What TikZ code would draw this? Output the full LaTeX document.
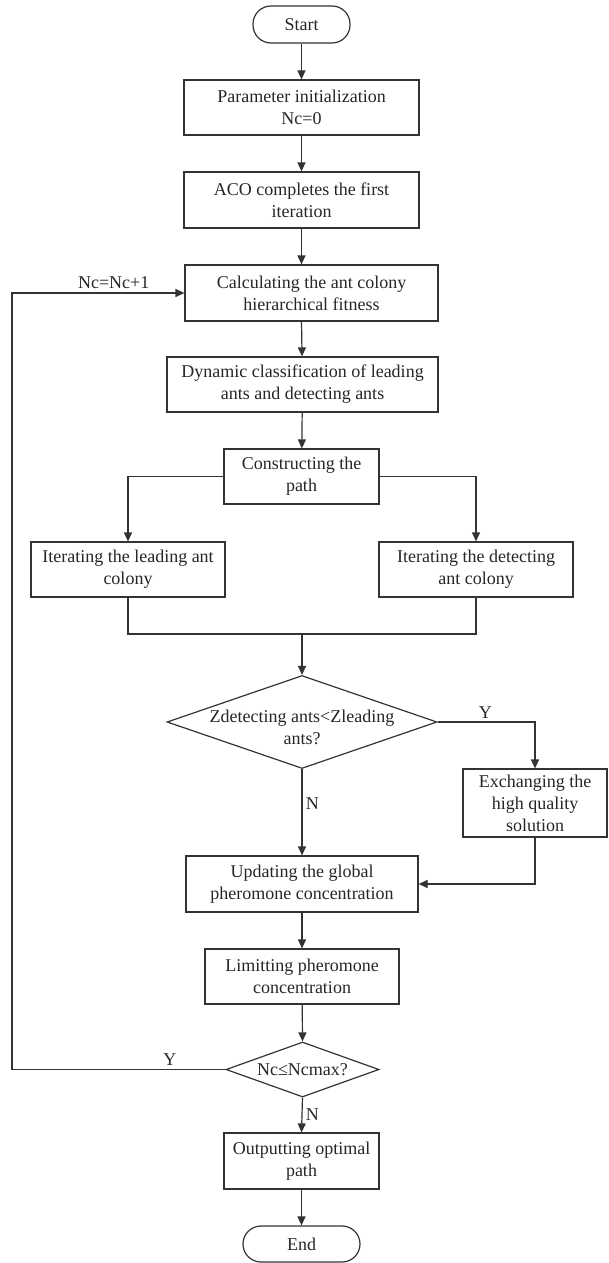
\documentclass[tikz,border=0pt]{standalone}
\usepackage{fontspec}
\setmainfont{Liberation Serif}
\usetikzlibrary{shapes.geometric,arrows.meta}

\begin{document}
\begin{tikzpicture}[x=1pt,y=-1pt,
  every node/.style={font=\fontsize{18}{22}\selectfont,text=black!85},
  box/.style={draw=black!80,line width=1.2pt,rectangle,inner sep=0pt,align=center},
  term/.style={box,rounded corners=18pt},
  dec/.style={draw=black!80,line width=1.2pt,diamond,inner sep=0pt},
  flow/.style={draw=black!80,line width=1.2pt,-{Triangle[length=9pt,width=8pt]}},
  seg/.style={draw=black!80,line width=1.2pt}]
\useasboundingbox (0,0) rectangle (608,1263);

\node (st)[term,minimum width=97,minimum height=37] at (301.5,24.5) {Start};
\node (b1)[box,minimum width=235,minimum height=55] at (301.5,107.5) {Parameter initialization\\Nc=0};
\node (b2)[box,minimum width=235,minimum height=56] at (301.5,200) {ACO completes the first\\iteration};
\node (b3)[box,minimum width=253,minimum height=56] at (311.5,293) {Calculating the ant colony\\hierarchical fitness};
\node (b4)[box,minimum width=271,minimum height=55] at (302.5,384.5) {Dynamic classification of leading\\ants and detecting ants};
\node (b5)[box,minimum width=155,minimum height=55] at (301.5,476.5) {Constructing the\\path};
\node (bl)[box,minimum width=194,minimum height=55] at (128,569.5) {Iterating the leading ant\\colony};
\node (br)[box,minimum width=194,minimum height=55] at (476,569.5) {Iterating the detecting\\ant colony};
\coordinate (mg) at (302,634);
\node (d1)[dec,minimum width=270,minimum height=93,
  label={[align=center,yshift=-5]center:Zdetecting ants<Zleading\\ants?}] at (302,722) {};
\node (ex)[box,minimum width=144,minimum height=68] at (535,803) {Exchanging the\\high quality\\solution};
\node (up)[box,minimum width=232,minimum height=56] at (302,884) {Updating the global\\pheromone concentration};
\node (lim)[box,minimum width=194,minimum height=55] at (302,976.5) {Limitting pheromone\\concentration};
\node (d2)[dec,minimum width=153,minimum height=55,
  label={center:Nc\char"2264 Ncmax?}] at (302.5,1069.5) {};
\node (out)[box,minimum width=155,minimum height=56] at (301.5,1161) {Outputting optimal\\path};
\node (en)[term,minimum width=117,minimum height=36] at (301.5,1244) {End};
\coordinate (lp) at (12,0);

\draw[flow] (st)--(b1);
\draw[flow] (b1)--(b2);
\draw[flow] (b2)--(b2 |- b3.north);
\draw[flow] (b2 |- b3.south)--(b4);
\draw[flow] (b4)--(b5);
\draw[flow] (b5.west) -| (bl.north);
\draw[flow] (b5.east) -| (br.north);
\draw[seg] (bl.south) |- (mg);
\draw[seg] (br.south) |- (mg);
\draw[flow] (mg)--(d1.north);
\draw[flow] (d1.east) -| node[pos=.245,above]{Y} (ex.north);
\draw[flow] (ex.south) |- (up.east);
\draw[flow] (d1.south)--(up.north) node[pos=.4,right]{N};
\draw[flow] (up)--(lim);
\draw[flow] (lim)--(d2.north);
\draw[flow] (d2.west) -- node[pos=.26,above]{Y} (lp |- d2.west) |- node[pos=.795,above]{Nc=Nc+1} (b3.west);
\draw[flow] (d2.south)--(out.north) node[pos=.5,right]{N};
\draw[flow] (out)--(en);

\end{tikzpicture}
\end{document}
